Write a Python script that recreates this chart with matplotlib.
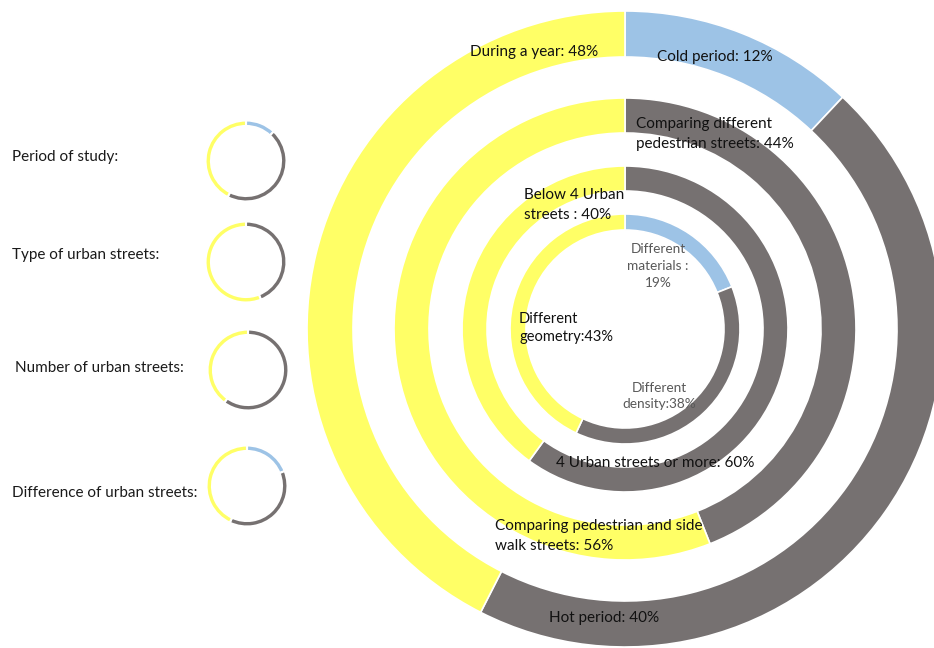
import matplotlib
matplotlib.use("Agg")
from matplotlib import pyplot as plt

# ring data, outer ring first (slice sizes as drawn, clockwise from 12 o'clock)
period_vals = [12, 45.5, 42.5]      # cold, hot, during a year
type_vals = [44, 56]                # different pedestrian, pedestrian+sidewalk
number_vals = [60, 40]              # 4 or more, below 4
diff_vals = [19, 38, 43]            # materials, density, geometry

BLUE = '#9dc3e6'
GRAY = '#767171'
YELLOW = '#ffff66'
period_colors = [BLUE, GRAY, YELLOW]
type_colors = [GRAY, YELLOW]
number_colors = [GRAY, YELLOW]
diff_colors = [BLUE, GRAY, YELLOW]

row_titles = ["Period of study:", "Type of urban streets:",
              "Number of urban streets:", "Difference of urban streets:"]

# text, x, y (pixels from top), align, colour, size, line spacing
slice_labels = [
    ("During a year: 48%", 598, 52, 'right', '#111111', 11, 1.6),
    ("Cold period: 12%", 657, 57, 'left', '#111111', 11, 1.6),
    ("Hot period: 40%", 549, 618, 'left', '#111111', 11, 1.6),
    ("Comparing different\npedestrian streets: 44%", 636, 134, 'left', '#111111', 11, 1.6),
    ("Comparing pedestrian and side\nwalk streets: 56%", 495, 536, 'left', '#111111', 11, 1.6),
    ("Below 4 Urban\nstreets : 40%", 524, 205, 'left', '#111111', 11, 1.55),
    ("4 Urban streets or more: 60%", 556, 463, 'left', '#111111', 11, 1.6),
    ("Different\nmaterials :\n19%", 658, 266, 'center', '#595959', 9.8, 1.5),
    ("Different\ngeometry:43%", 519, 328, 'left', '#111111', 10.5, 1.45),
    ("Different\ndensity:38%", 659, 396, 'center', '#595959', 9.8, 1.5),
]

H = 648
plt.rcParams['font.family'] = ['Lato', 'DejaVu Sans']
fig = plt.figure(figsize=(9.34, 6.48), dpi=100)
ax = fig.add_axes([0, 0, 1, 1])

def ring(vals, colors, cx, cy, r_out, r_in, lw=1.2):
    ax.pie(vals, colors=colors, radius=r_out, center=(cx, H - cy),
           startangle=90, counterclock=False, frame=True,
           wedgeprops=dict(width=r_out - r_in, edgecolor='white', linewidth=lw))

# big concentric doughnut
cx, cy = 625, 329
ring(period_vals, period_colors, cx, cy, 318, 272)
ring(type_vals, type_colors, cx, cy, 231, 196)
ring(number_vals, number_colors, cx, cy, 163, 138)
ring(diff_vals, diff_colors, cx, cy, 115, 99)

# small legend rings on the left
small_centres = [(246, 161), (246, 262), (248, 370), (247, 486)]
small_data = [(period_vals, period_colors), (type_vals, type_colors),
              (number_vals, number_colors), (diff_vals, diff_colors)]
for (sx, sy), (vals, cols) in zip(small_centres, small_data):
    ring(vals, cols, sx, sy, 40.5, 35, lw=1.5)

title_pos = [(12, 157), (12, 255), (15, 368), (12, 493)]
for t, (tx, ty) in zip(row_titles, title_pos):
    ax.text(tx, H - ty, t, fontsize=11, color='#1a1a1a', ha='left', va='center')

for txt, tx, ty, ha, col, fs, ls in slice_labels:
    ax.text(tx, H - ty, txt, fontsize=fs, color=col, ha=ha, va='center',
            multialignment=ha, linespacing=ls)

ax.set_xlim(0, 934)
ax.set_ylim(0, H)
ax.set_aspect('equal')
ax.axis('off')

plt.savefig("out.png", dpi=100, facecolor='white')
plt.close()
